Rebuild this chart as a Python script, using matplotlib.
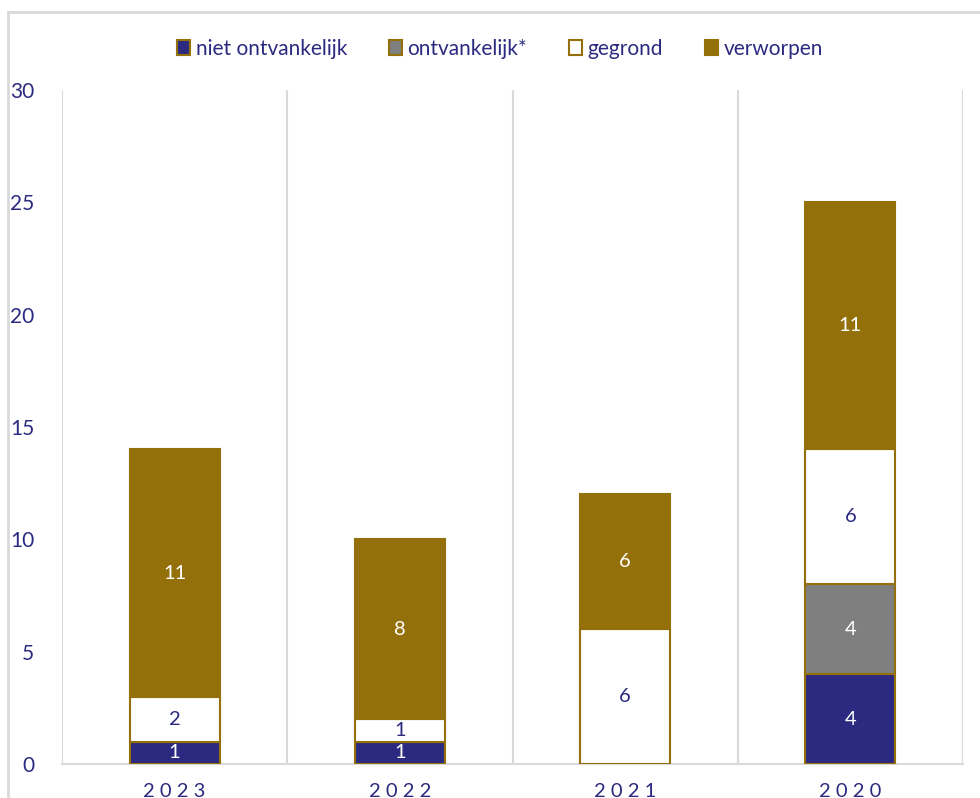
import matplotlib.pyplot as plt
from matplotlib.lines import Line2D
from matplotlib.patches import Patch
import numpy as np

years = ["2023", "2022", "2021", "2020"]
niet_ontvankelijk = [1, 1, 0, 4]
ontvankelijk = [0, 0, 0, 4]
gegrond = [2, 1, 6, 6]
verworpen = [11, 8, 6, 11]

series = [
    ("niet ontvankelijk", niet_ontvankelijk, "#2B2A80", "white"),
    ("ontvankelijk*", ontvankelijk, "#7F7F7F", "white"),
    ("gegrond", gegrond, "#FFFFFF", "#2B2A80"),
    ("verworpen", verworpen, "#94700B", "white"),
]

navy = "#2B2A80"
gold = "#94700B"
grid_col = "#D9D9D9"

plt.rcParams['font.family'] = ['Lato', 'DejaVu Sans']

fig = plt.figure(figsize=(9.8, 7.98), dpi=100)
ax = fig.add_axes([62 / 980, 1 - 764 / 798, (963 - 62) / 980, (764 - 90) / 798])

x = np.arange(len(years))
bottom = np.zeros(len(years))
for name, vals, col, txtcol in series:
    vals = np.array(vals, dtype=float)
    ax.bar(x, vals, width=0.4, bottom=bottom, color=col,
           edgecolor=gold, linewidth=1.5, zorder=3, label=name)
    for xi, v, b in zip(x, vals, bottom):
        if v > 0:
            ax.text(xi, b + v / 2, f"{int(v)}", ha="center", va="center",
                    color=txtcol, fontsize=14.5, zorder=4)
    bottom += vals

ax.set_xlim(-0.5, 3.5)
ax.set_ylim(0, 30)
for xv in np.arange(-0.5, 4.0, 1.0):
    ax.axvline(xv, color=grid_col, linewidth=1.5, zorder=1)

ax.set_yticks(range(0, 31, 5))
ax.set_xticks(x)
ax.set_xticklabels([" ".join(y) for y in years])
ax.tick_params(axis="y", length=0, pad=20, labelcolor=navy, labelsize=15)
ax.tick_params(axis="x", length=0, pad=14, labelcolor=navy, labelsize=14.5)
for s in ["top", "right", "left"]:
    ax.spines[s].set_visible(False)
ax.spines["bottom"].set_color(grid_col)
ax.spines["bottom"].set_linewidth(1.5)
ax.spines["bottom"].set_zorder(2)

handles = [Patch(facecolor=c, edgecolor=gold, linewidth=1.5) for _, _, c, _ in series]
fig.legend(handles, [s[0] for s in series], loc="center", bbox_to_anchor=(0.51, 1 - 49 / 798),
           ncol=4, frameon=False, fontsize=15, handlelength=0.65, handleheight=0.75,
           handletextpad=0.25, columnspacing=2.0, labelcolor=navy)

# outer frame
fig.add_artist(Line2D([8 / 980, 8 / 980], [0, 1 - 12 / 798], color=grid_col, linewidth=2,
                      transform=fig.transFigure))
fig.add_artist(Line2D([8 / 980, 1], [1 - 12 / 798, 1 - 12 / 798], color=grid_col, linewidth=2,
                      transform=fig.transFigure))

fig.savefig("out.png", dpi=100)
